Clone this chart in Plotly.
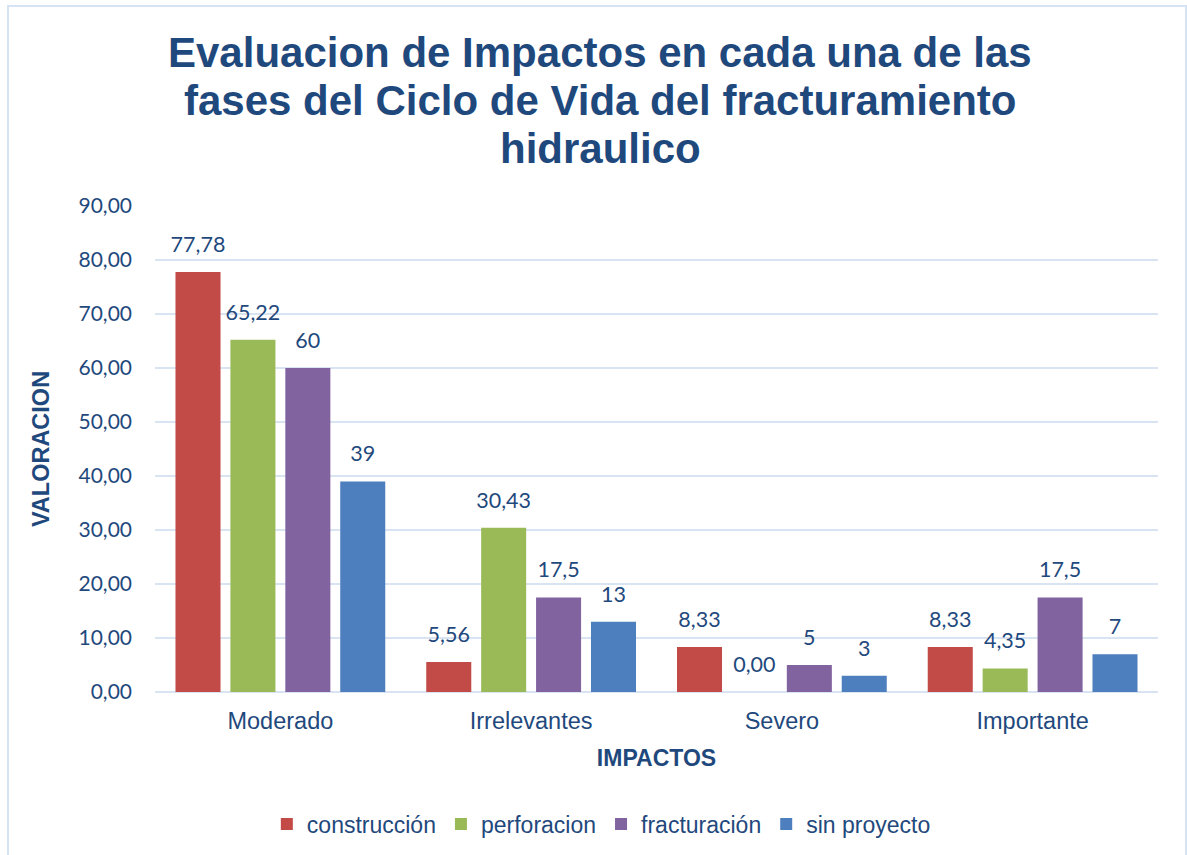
import plotly.graph_objects as go

categories = ["Moderado", "Irrelevantes", "Severo", "Importante"]
series_names = ["construcción", "perforacion", "fracturación", "sin proyecto"]
construccion = [77.78, 5.56, 8.33, 8.33]
perforacion = [65.22, 30.43, 0.00, 4.35]
fracturacion = [60, 17.5, 5, 17.5]
sin_proyecto = [39, 13, 3, 7]
y_ticks = [0, 10, 20, 30, 40, 50, 60, 70, 80, 90]
title_lines = [
    "Evaluacion de Impactos en cada una de las",
    "fases del Ciclo de Vida del fracturamiento",
    "hidraulico",
]

colors = ["#C24A47", "#9ABA58", "#8163A0", "#4D7FBE"]
label_fixed_decimals = [True, True, False, False]

TEXT = "#1F497D"
GRID = "#D9E4F3"
BARGAP = 0.124

W, H = 1187, 855
ML, MR, MT, MB = 155, 29, 206, 163


def fmt(v, fixed):
    s = f"{v:.2f}" if fixed else f"{v:g}"
    return s.replace(".", ",")


all_series = [construccion, perforacion, fracturacion, sin_proyecto]

fig = go.Figure()
for i, (name, vals, col) in enumerate(zip(series_names, all_series, colors)):
    fig.add_trace(go.Bar(
        x=categories, y=vals, name=name,
        marker=dict(color=col, line=dict(width=0)),
        offsetgroup=str(i),
    ))

# value labels: invisible markers grouped like the bars, text sits above them
for i, (vals, fixed) in enumerate(zip(all_series, label_fixed_decimals)):
    fig.add_trace(go.Scatter(
        x=categories, y=vals, mode="markers+text",
        text=[fmt(v, fixed) for v in vals],
        textposition="top center",
        textfont=dict(family="Lato", size=21.5, color=TEXT),
        marker=dict(size=22, opacity=0),
        offsetgroup=str(i),
        showlegend=False, hoverinfo="skip", cliponaxis=False,
    ))

pw, ph = W - ML - MR, H - MT - MB
def px_x(x):
    return (x - ML) / pw
def px_y(y):
    return (H - MB - y) / ph

# outer chart border
fig.add_shape(type="rect", xref="paper", yref="paper",
              x0=px_x(8), x1=px_x(1186), y0=px_y(6), y1=px_y(900),
              line=dict(color="#D6E3F4", width=2), fillcolor="rgba(0,0,0,0)",
              layer="below")

# three-line chart title
for line, ypix in zip(title_lines, [53, 101, 149]):
    fig.add_annotation(
        text=f"<b>{line}</b>", xref="paper", yref="paper",
        x=px_x(600), y=px_y(ypix), xanchor="center", yanchor="middle",
        showarrow=False,
        font=dict(family="Liberation Sans", size=42, color="#1F497D"),
    )

fig.update_layout(
    width=W, height=H,
    margin=dict(l=ML, r=MR, t=MT, b=MB, autoexpand=False),
    paper_bgcolor="white", plot_bgcolor="white",
    separators=",.",
    barmode="group", bargap=BARGAP, bargroupgap=0.18,
    scattermode="group", scattergap=BARGAP,
    xaxis=dict(
        automargin=False,
        tickfont=dict(family="Liberation Sans", size=23.5, color=TEXT),
        showline=False, ticks="", ticklabelstandoff=12,
        title=dict(text="<b>IMPACTOS</b>", font=dict(family="Liberation Sans", size=23, color=TEXT), standoff=17),
    ),
    yaxis=dict(
        automargin=False,
        range=[0, 90], tickvals=y_ticks, tickformat=".2f",
        tickfont=dict(family="Lato", size=21, color=TEXT),
        gridcolor=GRID, gridwidth=2,
        zeroline=True, zerolinecolor=GRID, zerolinewidth=2,
        ticks="", ticklen=0, showline=False, ticklabelstandoff=22,
        title=dict(text="<b>VALORACION</b>", font=dict(family="Liberation Sans", size=23.5, color=TEXT), standoff=22),
    ),
    legend=dict(
        orientation="h", x=0.445, xanchor="center",
        yref="container", y=1 - 824 / H, yanchor="middle",
        font=dict(family="Liberation Sans", size=23, color=TEXT),
        itemwidth=30, tracegroupgap=0,
    ),
    showlegend=True,
)

fig.write_html("out.html")
